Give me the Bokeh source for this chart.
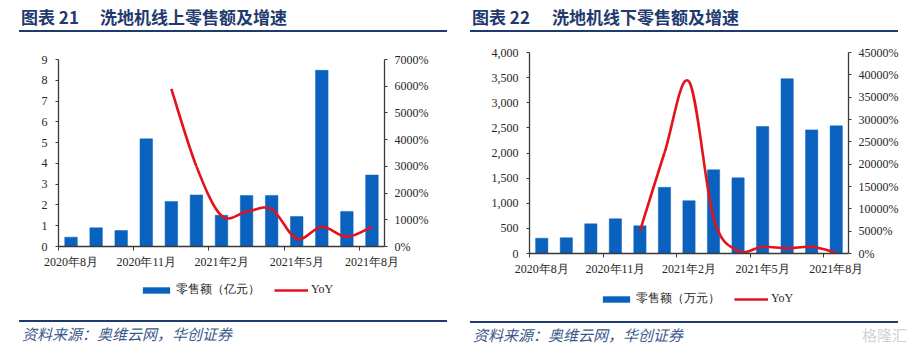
from bokeh.plotting import figure
from bokeh.models import (Range1d, LinearAxis, FixedTicker, PrintfTickFormatter,
                          NumeralTickFormatter, Legend, LegendItem, ColumnDataSource, Div)
from bokeh.layouts import row, column
from bokeh.embed import file_html
from bokeh.resources import INLINE

# ---------------- data ----------------
months = ["2020年8月", "2020年9月", "2020年10月", "2020年11月", "2020年12月",
          "2021年1月", "2021年2月", "2021年3月", "2021年4月", "2021年5月",
          "2021年6月", "2021年7月", "2021年8月"]
tick_idx = [0, 3, 6, 9, 12]

online_sales = [0.45, 0.9, 0.77, 5.18, 2.17, 2.48, 1.5, 2.45, 2.46, 1.44, 8.48, 1.69, 3.44]
online_yoy = [None, None, None, None, 5900, 3000, 1150, 1300, 1400, 280, 740, 360, 740]

offline_sales = [305, 312, 590, 690, 550, 1316, 1050, 1665, 1505, 2525, 3478, 2460, 2540]
offline_yoy = [None, None, None, None, 5000, 22500, 38500, 8000, 600, 1500, 1150, 1500, 150]

left_prefix, left_title = "图表 21", "洗地机线上零售额及增速"
right_prefix, right_title = "图表 22", "洗地机线下零售额及增速"
left_bar_label, right_bar_label, line_label = "零售额（亿元）", "零售额（万元）", "YoY"
source_text = "资料来源：奥维云网，华创证券"
watermark = "格隆汇"

left_y_ticks = list(range(0, 10))
left_yoy_ticks = list(range(0, 7001, 1000))
right_y_ticks = list(range(0, 4001, 500))
right_yoy_ticks = list(range(0, 45001, 5000))

# ---------------- style ----------------
BLUE = "#0A62BE"
RED = "#E3121C"
NAVY = "#1F3A6E"
AXIS = "#3a3a3a"
TXT = "#262626"
SERIF = "Liberation Serif"
CJK = "Noto Sans CJK SC"


def smooth_segments(ys):
    pts = [(i, y) for i, y in enumerate(ys) if y is not None]
    n = len(pts)
    d = dict(x0=[], y0=[], x1=[], y1=[], cx0=[], cy0=[], cx1=[], cy1=[])
    for i in range(n - 1):
        p0 = pts[max(i - 1, 0)]
        p1 = pts[i]
        p2 = pts[i + 1]
        p3 = pts[min(i + 2, n - 1)]
        d["x0"].append(p1[0]); d["y0"].append(p1[1])
        d["x1"].append(p2[0]); d["y1"].append(p2[1])
        d["cx0"].append(p1[0] + (p2[0] - p0[0]) / 6.0)
        d["cy0"].append(p1[1] + (p2[1] - p0[1]) / 6.0)
        d["cx1"].append(p2[0] - (p3[0] - p1[0]) / 6.0)
        d["cy1"].append(p2[1] - (p3[1] - p1[1]) / 6.0)
    return ColumnDataSource(d)


def style_axis(ax, tick_out=4, standoff=6):
    ax.axis_line_color = AXIS
    ax.axis_line_width = 1.3
    ax.major_tick_line_color = AXIS
    ax.major_tick_in = 0
    ax.major_tick_out = tick_out
    ax.minor_tick_line_color = None
    ax.major_label_text_font = SERIF
    ax.major_label_text_font_size = "12px"
    ax.major_label_text_color = TXT
    ax.major_label_standoff = standoff


def header(w, h, prefix, title, tx, tx2, rx0, rx1):
    span = ("position:absolute;top:8px;line-height:18px;white-space:nowrap;"
            "font-family:'%s';font-size:17px;font-weight:bold;color:%s;" % (CJK, NAVY))
    html = ('<div style="position:relative;width:%dpx;height:%dpx;">'
            '<span style="%sleft:%dpx;">%s</span>'
            '<span style="%sleft:%dpx;">%s</span>'
            '<div style="position:absolute;left:%dpx;top:30px;width:%dpx;height:2.4px;background:%s;"></div>'
            '</div>') % (w, h, span, tx, prefix, span, tx2, title, rx0, rx1 - rx0, NAVY)
    return Div(text=html, width=w, height=h, margin=0)


def footer(w, h, tx, rx0, rx1, ry, ty, mark=False):
    span = ("position:absolute;line-height:16px;white-space:nowrap;"
            "font-family:'%s';font-size:15px;font-style:italic;color:#3B5A8A;" % CJK)
    extra = ""
    if mark:
        extra = ('<span style="position:absolute;right:4px;top:%dpx;line-height:16px;'
                 'font-family:\'%s\';font-size:15px;color:#D2D2D2;">%s</span>') % (ty, CJK, watermark)
    html = ('<div style="position:relative;width:%dpx;height:%dpx;">'
            '<div style="position:absolute;left:%dpx;top:%spx;width:%dpx;height:2.2px;background:%s;"></div>'
            '<span style="%sleft:%dpx;top:%dpx;">%s</span>%s'
            '</div>') % (w, h, rx0, ry, rx1 - rx0, NAVY, span, tx, ty, source_text, extra)
    return Div(text=html, width=w, height=h, margin=0)


def chart(w, h, borders, sales, yoy, ymax, yticks, yoymax, yoyticks, yfmt, bar_width):
    bl, br, bt, bb = borders
    n = len(months)
    p = figure(width=w, height=h, x_range=Range1d(-0.5, n - 0.5), y_range=Range1d(0, ymax),
               output_backend="svg", toolbar_location=None,
               min_border_left=bl, min_border_right=br, min_border_top=bt, min_border_bottom=bb,
               outline_line_color=None)
    p.grid.visible = False
    p.extra_y_ranges = {"yoy": Range1d(0, yoymax)}

    src = ColumnDataSource(dict(x=list(range(n)), v=sales))
    p.vbar(x="x", top="v", width=bar_width, source=src,
           fill_color=BLUE, line_color=BLUE, line_width=0.5)
    p.bezier(x0="x0", y0="y0", x1="x1", y1="y1", cx0="cx0", cy0="cy0",
             cx1="cx1", cy1="cy1", source=smooth_segments(yoy),
             y_range_name="yoy", line_color=RED, line_width=2.6)

    xa = p.xaxis[0]
    xa.ticker = FixedTicker(ticks=tick_idx, minor_ticks=[t - 0.5 for t in tick_idx])
    xa.major_label_overrides = {t: months[t] for t in tick_idx}
    style_axis(xa, tick_out=0, standoff=4)
    xa.minor_tick_line_color = AXIS
    xa.minor_tick_in = 0
    xa.minor_tick_out = 4

    ya = p.yaxis[0]
    ya.ticker = FixedTicker(ticks=yticks)
    if yfmt:
        ya.formatter = NumeralTickFormatter(format=yfmt)
    style_axis(ya, tick_out=3, standoff=8)

    ra = LinearAxis(y_range_name="yoy", ticker=FixedTicker(ticks=yoyticks),
                    formatter=PrintfTickFormatter(format="%d%%"))
    style_axis(ra, tick_out=3, standoff=7)
    p.add_layout(ra, "right")
    return p


def legend_fig(w, h, bl, br, sales, yoy, bar_label, loc):
    # Legend strip: the series are attached as zero-height bars and zero-length
    # segments, which draw nothing, so only the legend keys appear.
    n = len(months)
    p = figure(width=w, height=h, x_range=Range1d(-0.5, n - 0.5),
               y_range=Range1d(0, max(max(sales), max(y for y in yoy if y is not None)) * 1.1),
               output_backend="svg", toolbar_location=None,
               x_axis_location=None, y_axis_location=None,
               min_border_left=bl, min_border_right=br, min_border_top=0, min_border_bottom=0,
               outline_line_color=None)
    p.grid.visible = False
    src = ColumnDataSource(dict(x=list(range(n)), v=sales,
                                r=[float("nan") if y is None else y for y in yoy]))
    bars = p.vbar(x="x", bottom="v", top="v", width=0.5, source=src,
                  fill_color=BLUE, line_color=None)
    seg = p.segment(x0="x", y0="r", x1="x", y1="r", source=src,
                    line_color=RED, line_width=2.6, line_cap="butt")
    legend = Legend(items=[LegendItem(label=bar_label, renderers=[bars]),
                           LegendItem(label=line_label, renderers=[seg])],
                    orientation="horizontal", location=loc,
                    border_line_color=None, background_fill_alpha=0,
                    padding=0, margin=0, spacing=14, label_standoff=3,
                    glyph_width=34, glyph_height=8, label_height=14,
                    label_text_font=SERIF, label_text_font_size="12px",
                    label_text_color=TXT)
    p.add_layout(legend)
    return p


lh = header(455, 40, left_prefix, left_title, 21, 100, 19, 447)
lc = chart(455, 235, (58, 71, 19, 29), online_sales, online_yoy, 9, left_y_ticks,
           7000, left_yoy_ticks, None, 0.5)
ll = legend_fig(455, 35, 58, 71, online_sales, online_yoy, left_bar_label, (81, 12))
lf = footer(455, 45, 22, 19, 447, 10, 16)

rh = header(456, 40, right_prefix, right_title, 17, 97, 15, 443)
rc = chart(456, 242, (74, 63, 12, 29), offline_sales, offline_yoy, 4000, right_y_ticks,
           45000, right_yoy_ticks, "0,0", 0.5)
rl = legend_fig(456, 35, 74, 63, offline_sales, offline_yoy, right_bar_label, (70, 10))
rf = footer(456, 38, 18, 15, 443, 3.7, 10, mark=True)

layout = row(column(lh, lc, ll, lf, spacing=0), column(rh, rc, rl, rf, spacing=0), spacing=0)
open("out.html", "w").write(file_html(layout, INLINE))
